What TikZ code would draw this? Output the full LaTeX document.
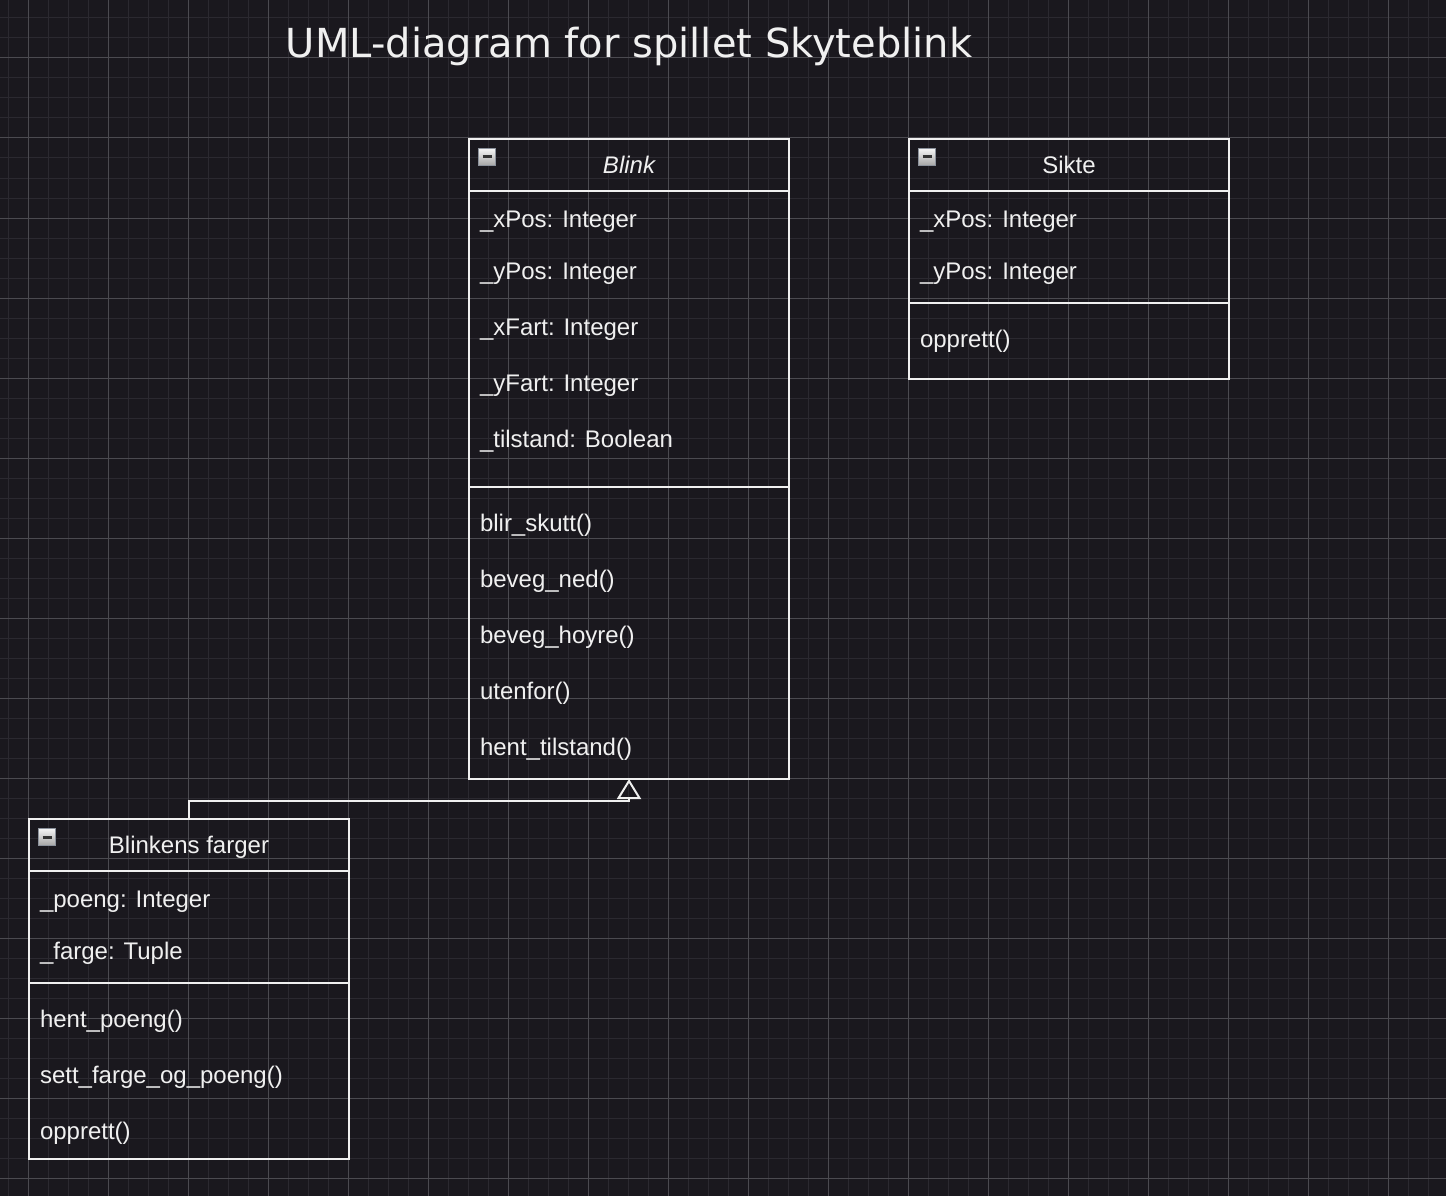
\documentclass[tikz,border=0pt]{standalone}
\usepackage{fontspec}
\setmainfont{Liberation Sans}
\newfontfamily\titlefont{DejaVu Sans}
\usepackage{tikz}
\usetikzlibrary{arrows.meta,calc}
\definecolor{canvas}{HTML}{1A181E}
\definecolor{minorline}{HTML}{2B2930}
\definecolor{majorline}{HTML}{4B4A50}
\definecolor{ink}{HTML}{F0F0F0}
\definecolor{iconrim}{HTML}{8C929C}

\begin{document}
\begin{tikzpicture}[x=1pt,y=-1pt]
\tikzstyle{every node}+=[inner sep=0pt, outer sep=0pt, text=ink, font=\fontsize{24}{28}\selectfont]
\tikzstyle{classbox}=[draw=ink, line width=2pt, minimum width=320pt, anchor=north west]
\tikzstyle{divider}=[draw=ink, line width=2pt]
\tikzstyle{member}=[anchor=base west]
\tikzstyle{classname}=[anchor=base]
\tikzstyle{icon}=[draw=iconrim, line width=1pt, minimum size=17pt, top color=white!92!gray, bottom color=gray!70,
  path picture={\draw[black!80, line width=3pt] ([xshift=-4.5pt]path picture bounding box.center) -- ([xshift=4.5pt]path picture bounding box.center);}]
% background and grid
\fill[canvas] (0,0) rectangle (1446,1196);
\useasboundingbox (0,0) rectangle (1446,1196);
\foreach \x in {8,28,...,1446} \draw[minorline, line width=1pt] (\x,0) -- (\x,1196);
\foreach \y in {18,38,...,1196} \draw[minorline, line width=1pt] (0,\y) -- (1446,\y);
\foreach \x in {28,108,...,1446} \draw[majorline, line width=1pt] (\x,0) -- (\x,1196);
\foreach \y in {58,138,...,1196} \draw[majorline, line width=1pt] (0,\y) -- (1446,\y);
% title
\node[anchor=base, font=\titlefont\fontsize{40}{48}\selectfont] (title) at (629,58) {UML-diagram for spillet Skyteblink};
% Blink
\node[classbox, minimum height=640pt] (blink) at (469,139) {};
\draw[divider] ($(blink.north west)+(0,52)$) -- ($(blink.north east)+(0,52)$);
\draw[divider] ($(blink.north west)+(0,348)$) -- ($(blink.north east)+(0,348)$);
\node[icon] (blinkicon) at (487,157) {};
\node[classname, font=\fontsize{24}{28}\selectfont\itshape] (blinkname) at (629,173) {Blink};
\node[member] (blinkxpos) at (480,227) {\_xPos: Integer};
\node[member] (blinkypos) at (480,279) {\_yPos: Integer};
\node[member] (blinkxfart) at (480,335) {\_xFart: Integer};
\node[member] (blinkyfart) at (480,391) {\_yFart: Integer};
\node[member] (blinktilstand) at (480,447) {\_tilstand: Boolean};
\node[member] (blinkskutt) at (480,531) {blir\_skutt()};
\node[member] (blinkned) at (480,587) {beveg\_ned()};
\node[member] (blinkhoyre) at (480,643) {beveg\_hoyre()};
\node[member] (blinkutenfor) at (480,699) {utenfor()};
\node[member] (blinkhent) at (480,755) {hent\_tilstand()};
% Sikte
\node[classbox, minimum height=240pt] (sikte) at (909,139) {};
\draw[divider] ($(sikte.north west)+(0,52)$) -- ($(sikte.north east)+(0,52)$);
\draw[divider] ($(sikte.north west)+(0,164)$) -- ($(sikte.north east)+(0,164)$);
\node[icon] (sikteicon) at (927,157) {};
\node[classname] (siktename) at (1069,173) {Sikte};
\node[member] (siktexpos) at (920,227) {\_xPos: Integer};
\node[member] (sikteypos) at (920,279) {\_yPos: Integer};
\node[member] (sikteopprett) at (920,347) {opprett()};
% Blinkens farger
\node[classbox, minimum height=340pt] (farger) at (29,819) {};
\draw[divider] ($(farger.north west)+(0,52)$) -- ($(farger.north east)+(0,52)$);
\draw[divider] ($(farger.north west)+(0,164)$) -- ($(farger.north east)+(0,164)$);
\node[icon] (fargericon) at (47,837) {};
\node[classname] (fargername) at (189,853) {Blinkens farger};
\node[member] (fargerpoeng) at (40,907) {\_poeng: Integer};
\node[member] (fargerfarge) at (40,959) {\_farge: Tuple};
\node[member] (fargerhent) at (40,1027) {hent\_poeng()};
\node[member] (fargersett) at (40,1083) {sett\_farge\_og\_poeng()};
\node[member] (fargeropprett) at (40,1139) {opprett()};
% inheritance
\coordinate (bend) at ($(blink.south)+(0,22)$);
\draw[ink, line width=2pt, -{Triangle[open, width=24pt, length=20pt]}] (farger.north) |- (bend) -- (blink.south);
\end{tikzpicture}
\end{document}
